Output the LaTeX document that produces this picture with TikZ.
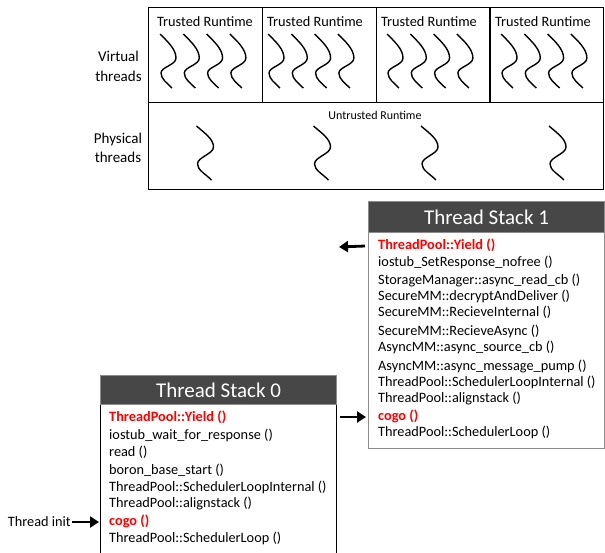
\documentclass[tikz,border=0pt]{standalone}
\usepackage{fontspec}
\setmainfont{Carlito}
\usetikzlibrary{arrows.meta,calc}
\definecolor{hdr}{HTML}{474747}
\definecolor{bord}{HTML}{8C8C8C}
\definecolor{redt}{HTML}{FF0000}
\tikzset{
  vsq/.pic={\draw[line width=1.4pt] (0,0) .. controls +(7,7) and +(0,-9) .. (16,24) .. controls +(0,7) and +(0,-6) .. (1,39) .. controls +(0,6) and +(-5,-5) .. (12,54);},
  psq/.pic={\draw[line width=1.4pt] (0,0) .. controls +(8,7) and +(0,-8) .. (17,21) .. controls +(0,7) and +(0,-7) .. (1,38) .. controls +(0,6) and +(-6,-6) .. (15,54);},
  sect/.style={draw, line width=1.4pt, anchor=north west, inner sep=0, minimum width=113.75pt, minimum height=95pt},
  lbl/.style={inner sep=0, font=\fontsize{14.3}{16}\selectfont},
  side/.style={inner sep=0, align=center, font=\fontsize{15}{19.5}\selectfont},
  stk/.style={anchor=west, inner sep=0, font=\fontsize{14.3}{16}\selectfont, text height=10pt, text depth=3pt},
  hl/.style={stk, text=redt, font=\fontsize{14.3}{16}\selectfont\bfseries},
  hdrbox/.style={anchor=north west, fill=hdr, draw=bord, line width=1pt, inner sep=0, minimum width=236pt, text=white, font=\fontsize{21}{24}\selectfont},
  arr/.style={line width=2.8pt, -{Triangle[length=9pt,width=11pt]}},
}
\begin{document}
\begin{tikzpicture}[x=1pt,y=-1pt]
\useasboundingbox (0,0) rectangle (605,552);
\clip (0,0) rectangle (605,552);
% top frame
\node[sect] (tr1) at (148,7) {};
\node[sect] (tr2) at (261.75,7) {};
\node[sect] (tr3) at (375.5,7) {};
\node[sect] (tr4) at (489.25,7) {};
\node[draw, line width=1.4pt, anchor=north west, inner sep=0, minimum width=455pt, minimum height=87pt] (utr) at (148,102) {};
\node[lbl] (t1) at (205,22) {Trusted Runtime};
\node[lbl] (t2) at (315,22) {Trusted Runtime};
\node[lbl] (t3) at (429,22) {Trusted Runtime};
\node[lbl] (t4) at (543,22) {Trusted Runtime};
\node[lbl, font=\fontsize{12}{14}\selectfont] (ut) at (375,115) {Untrusted Runtime};
\node[side] (vt) at (118.5,66.5) {Virtual\\threads};
\node[side] (pt) at (118,148) {Physical\\threads};
\foreach \s in {160,268,387,501}
  \foreach \k in {0,1,2,3}
    \pic at ({\s+23.3*\k},34) {vsq};
\foreach \s in {196.5,313.5,421,549}
  \pic at (\s,126) {psq};
% Thread stack 1
\node[draw=bord, line width=1pt, anchor=north west, inner sep=0, minimum width=236pt, minimum height=247pt] (s1box) at (368,201) {};
\node[hdrbox, minimum height=31pt] (s1hdr) at (368,201) {Thread Stack 1};
\node[hl]  (s1-1)  at (378,246) {ThreadPool::Yield ()};
\node[stk] (s1-2)  at (378,263) {iostub\_SetResponse\_nofree ()};
\node[stk] (s1-3)  at (378,281) {StorageManager::async\_read\_cb ()};
\node[stk] (s1-4)  at (378,297) {SecureMM::decryptAndDeliver ()};
\node[stk] (s1-5)  at (378,313) {SecureMM::RecieveInternal ()};
\node[stk] (s1-6)  at (378,332) {SecureMM::RecieveAsync ()};
\node[stk] (s1-7)  at (378,348) {AsyncMM::async\_source\_cb ()};
\node[stk] (s1-8)  at (378,367) {AsyncMM::async\_message\_pump ()};
\node[stk] (s1-9)  at (378,383) {ThreadPool::SchedulerLoopInternal ()};
\node[stk] (s1-10) at (378,399) {ThreadPool::alignstack ()};
\node[hl]  (s1-11) at (378,417) {cogo ()};
\node[stk] (s1-12) at (378,433) {ThreadPool::SchedulerLoop ()};
% Thread stack 0
\node[draw, line width=1.2pt, anchor=north west, inner sep=0, minimum width=236pt, minimum height=220pt] (s0box) at (100,375) {};
\node[hdrbox, minimum height=29pt] (s0hdr) at (100,375) {Thread Stack 0};
\node[hl]  (s0-1) at (109,418) {ThreadPool::Yield ()};
\node[stk] (s0-2) at (109,436) {iostub\_wait\_for\_response ()};
\node[stk] (s0-3) at (109,453) {read ()};
\node[stk] (s0-4) at (109,471) {boron\_base\_start ()};
\node[stk] (s0-5) at (109,488) {ThreadPool::SchedulerLoopInternal ()};
\node[stk] (s0-6) at (109,504) {ThreadPool::alignstack ()};
\node[hl]  (s0-7) at (109,522) {cogo ()};
\node[stk] (s0-8) at (109,539) {ThreadPool::SchedulerLoop ()};
% arrows
\coordinate (yo) at (339,247);
\draw[arr] ($(s1box.west |- s1-1.west)+(-3,0)$) -- (yo);
\draw[arr] ($(s0box.east |- s1-11.west)+(3,0)$) -- ($(s1box.west |- s1-11.west)+(-2,0)$);
\node[lbl, anchor=east] (ti) at (71,522) {Thread init};
\draw[arr] ($(ti.east)+(1,0)$) -- ($(s0box.west |- s0-7.west)+(-1,0)$);
\end{tikzpicture}
\end{document}
